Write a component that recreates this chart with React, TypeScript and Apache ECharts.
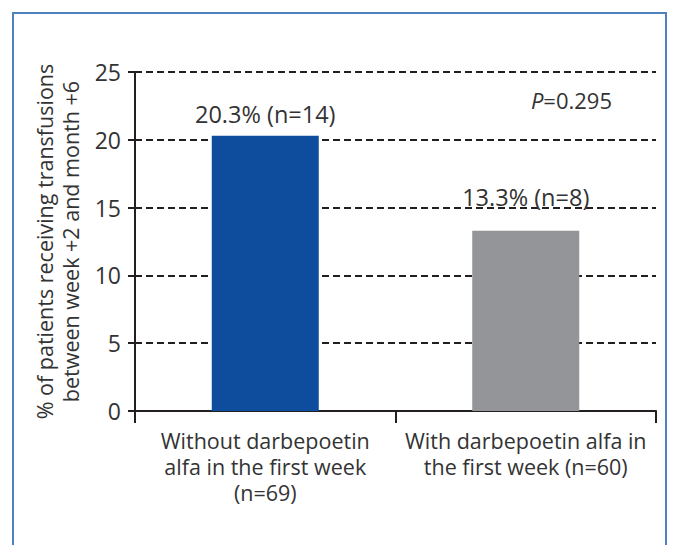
import React, { useEffect, useRef } from "react";
import * as echarts from "echarts";

const categories = [
  "Without darbepoetin\nalfa in the first week\n(n=69)",
  "With darbepoetin alfa in\nthe first week (n=60)",
];
const values = [20.3, 13.3];
const valueLabels = ["20.3% (n=14)", "13.3% (n=8)"];
const barColors = ["#0e4c9e", "#939598"];
const labelDistances = [10, 22];
const yTicks = { min: 0, max: 25, interval: 5 };
const yName = "% of patients receiving transfusions\nbetween week +2 and month +6";
const pValue = "0.295";

const FONT = "'Open Sans', 'Noto Sans', sans-serif";
const TXT = "#333333";

export default function App() {
  const ref = useRef<HTMLDivElement>(null);
  useEffect(() => {
    if (!ref.current) return;
    const chart = echarts.init(ref.current, undefined, { renderer: "svg" });
    chart.setOption({
      animation: false,
      backgroundColor: "#ffffff",
      textStyle: { fontFamily: FONT },
      grid: { left: 135, right: 17, top: 72, bottom: 134, containLabel: false },
      xAxis: {
        type: "category",
        data: categories,
        boundaryGap: true,
        axisLine: { show: true, lineStyle: { color: "#231f20", width: 2 } },
        axisTick: { show: true, length: 12, lineStyle: { color: "#231f20", width: 2 } },
        axisLabel: {
          interval: 0,
          hideOverlap: false,
          color: TXT,
          fontSize: 21.5,
          lineHeight: 26,
          margin: 16,
          fontFamily: FONT,
        },
        splitLine: { show: false },
      },
      yAxis: {
        type: "value",
        min: yTicks.min,
        max: yTicks.max,
        interval: yTicks.interval,
        name: yName,
        nameLocation: "middle",
        nameGap: 52,
        nameTextStyle: { color: TXT, fontSize: 21.5, lineHeight: 26, fontFamily: FONT },
        axisLine: { show: true, lineStyle: { color: "#231f20", width: 2 } },
        axisTick: { show: true, length: 7, lineStyle: { color: "#231f20", width: 2 } },
        axisLabel: { color: TXT, fontSize: 23, margin: 14, fontFamily: FONT },
        splitLine: {
          show: true,
          lineStyle: { color: "#231f20", width: 2, type: [7, 4] },
        },
      },
      series: [
        {
          type: "bar",
          barWidth: 107,
          data: values.map((v, i) => ({
            value: v,
            itemStyle: { color: barColors[i] },
            label: {
              show: true,
              position: "top",
              distance: labelDistances[i],
              formatter: valueLabels[i],
              color: TXT,
              fontSize: 23.5,
              fontFamily: FONT,
            },
          })),
        },
      ],
      graphic: [
        {
          type: "rect",
          shape: { x: 13, y: 13, width: 653, height: 560 },
          style: { fill: "none", stroke: "#4f81bd", lineWidth: 2 },
          silent: true,
        },
        {
          type: "text",
          x: 612,
          y: 100,
          style: {
            text: "{i|P}=" + pValue,
            align: "right",
            verticalAlign: "middle",
            fill: TXT,
            fontSize: 22,
            fontFamily: FONT,
            rich: {
              i: { fontStyle: "italic", fontSize: 22, fill: TXT, fontFamily: FONT },
            },
          },
        },
      ],
    });
    return () => chart.dispose();
  }, []);
  return (
    <div
      ref={ref}
      style={{ position: "absolute", left: 0, top: 0, width: 673, height: 545 }}
    />
  );
}
